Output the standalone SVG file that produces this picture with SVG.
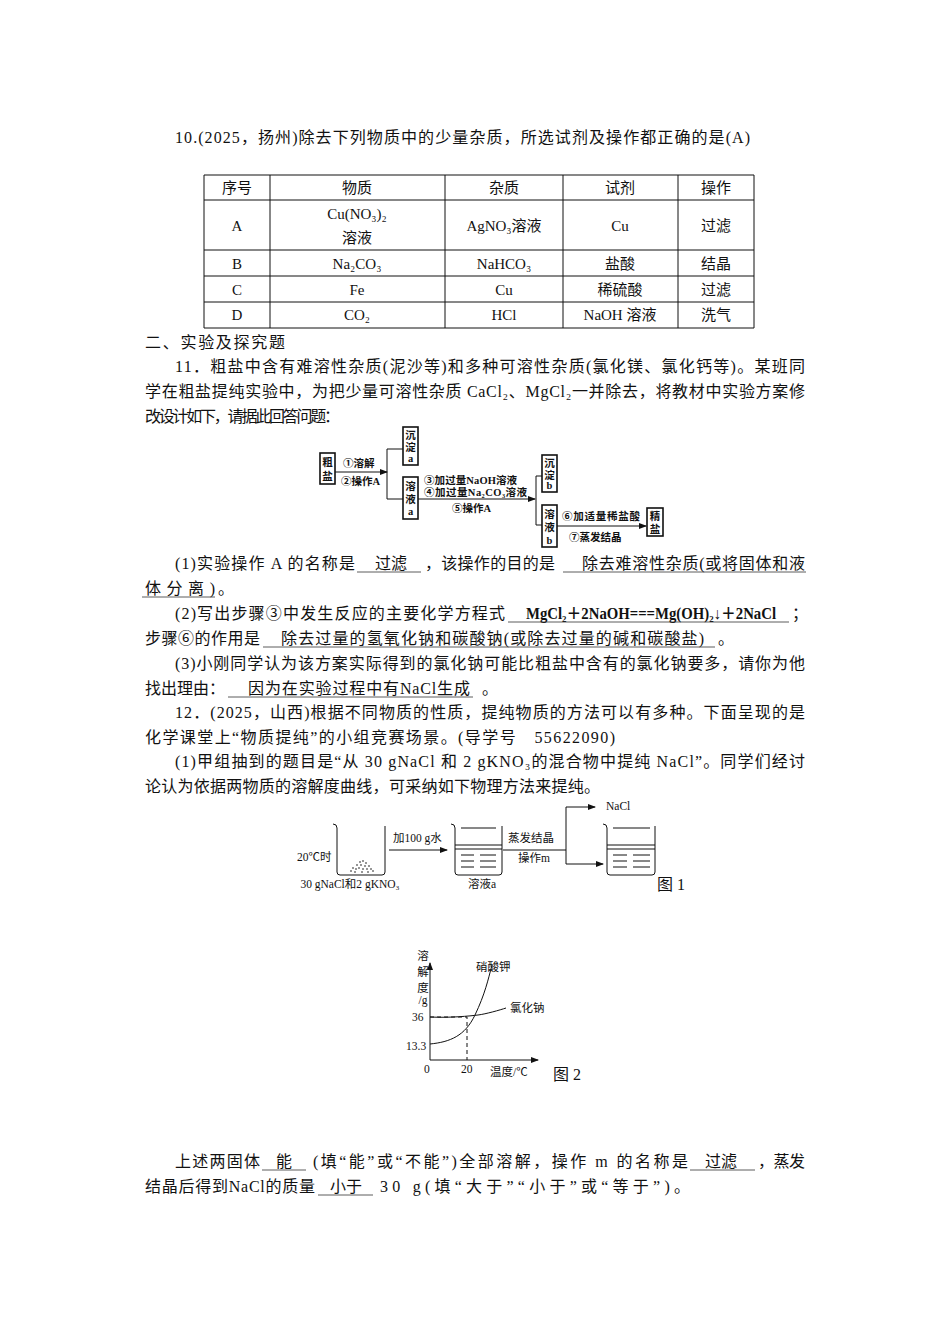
<svg xmlns="http://www.w3.org/2000/svg" width="950" height="1344" viewBox="0 0 950 1344">
<style>
text{font-family:"Liberation Serif","Noto Sans CJK SC",serif;fill:#111}
.t{font-size:16px}
.tb{font-size:15px}
.c{text-anchor:middle}
.s{font-size:10.5px;font-weight:bold}
.f{font-size:11.5px}
.ln{stroke:#111;stroke-width:1;fill:none}
.bx{stroke:#111;stroke-width:1.6;fill:#fff}
.u{stroke:#333;stroke-width:0.8}
.d{stroke:#111;stroke-width:1;stroke-dasharray:4 3;fill:none}
</style>
<defs>
<marker id="ah" markerWidth="8" markerHeight="6" refX="7" refY="3" orient="auto" markerUnits="userSpaceOnUse"><path d="M0,0 L8,3 L0,6 Z" fill="#111"/></marker>
</defs>
<rect width="950" height="1344" fill="#fff"/>

<text class="t" x="175" y="143" textLength="575" lengthAdjust="spacing">10.(2025，扬州)除去下列物质中的少量杂质，所选试剂及操作都正确的是(A)</text>

<g id="table">
<path class="ln" d="M204,175H754V328H204Z M204,200H754 M204,250H754 M204,276H754 M204,302H754 M270,175V328 M445,175V328 M563,175V328 M678,175V328"/>
<g class="tb c">
<text x="237" y="193">序号</text><text x="357" y="193">物质</text><text x="504" y="193">杂质</text><text x="620" y="193">试剂</text><text x="716" y="193">操作</text>
<text x="237" y="231">A</text><text x="357" y="219">Cu(NO₃)₂</text><text x="357" y="243">溶液</text><text x="504" y="231">AgNO₃溶液</text><text x="620" y="231">Cu</text><text x="716" y="231">过滤</text>
<text x="237" y="269">B</text><text x="357" y="269">Na₂CO₃</text><text x="504" y="269">NaHCO₃</text><text x="620" y="269">盐酸</text><text x="716" y="269">结晶</text>
<text x="237" y="295">C</text><text x="357" y="295">Fe</text><text x="504" y="295">Cu</text><text x="620" y="295">稀硫酸</text><text x="716" y="295">过滤</text>
<text x="237" y="320">D</text><text x="357" y="320">CO₂</text><text x="504" y="320">HCl</text><text x="620" y="320">NaOH 溶液</text><text x="716" y="320">洗气</text>
</g>
</g>

<text class="t" x="145" y="348" textLength="140" lengthAdjust="spacing">二、实验及探究题</text>
<text class="t" x="175" y="372" textLength="630" lengthAdjust="spacing">11．粗盐中含有难溶性杂质(泥沙等)和多种可溶性杂质(氯化镁、氯化钙等)。某班同</text>
<text class="t" x="145" y="397" textLength="660" lengthAdjust="spacing">学在粗盐提纯实验中，为把少量可溶性杂质 CaCl₂、MgCl₂一并除去，将教材中实验方案修</text>
<text class="t" x="145" y="422" textLength="195" lengthAdjust="spacing">改设计如下，请据此回答问题：</text>

<g id="connectors">
<path class="ln" d="M335,472H387" marker-end="url(#ah)"/>
<path class="ln" d="M403,449H387V499H403"/>
<path class="ln" d="M418,499H535" marker-end="url(#ah)"/>
<path class="ln" d="M542,476H536V525H542"/>
<path class="ln" d="M557,526H646" marker-end="url(#ah)"/>
<path class="ln" d="M389,850H447" marker-end="url(#ah)"/>
<path class="ln" d="M503,850H566V807H595" marker-end="url(#ah)"/>
<path class="ln" d="M566,850V864H603" marker-end="url(#ah)"/>
</g>
<g id="flow">
<g id="n-cuyan"><rect class="bx" x="320" y="453" width="15" height="31"/><text class="s c" x="327.5" y="466">粗</text><text class="s c" x="327.5" y="480">盐</text></g>
<g id="n-chendian-a"><rect class="bx" x="403" y="427" width="15" height="38"/><text class="s c" x="410.5" y="439">沉</text><text class="s c" x="410.5" y="451">淀</text><text class="s c" x="410.5" y="462">a</text></g>
<g id="n-rongye-a"><rect class="bx" x="403" y="477" width="15" height="42"/><text class="s c" x="410.5" y="490">溶</text><text class="s c" x="410.5" y="503">液</text><text class="s c" x="410.5" y="515">a</text></g>
<g id="n-chendian-b"><rect class="bx" x="542" y="455" width="15" height="37"/><text class="s c" x="549.5" y="467">沉</text><text class="s c" x="549.5" y="479">淀</text><text class="s c" x="549.5" y="489">b</text></g>
<g id="n-rongye-b"><rect class="bx" x="542" y="505" width="15" height="42"/><text class="s c" x="549.5" y="518">溶</text><text class="s c" x="549.5" y="531">液</text><text class="s c" x="549.5" y="544">b</text></g>
<g id="n-jingyan"><rect class="bx" x="647" y="508" width="16" height="28"/><text class="s c" x="655" y="520">精</text><text class="s c" x="655" y="533">盐</text></g>
<text class="s" x="343" y="467">①溶解</text>
<text class="s" x="341" y="485">②操作A</text>
<text class="s" x="424" y="484" textLength="93" lengthAdjust="spacing">③加过量NaOH溶液</text>
<text class="s" x="424" y="496" textLength="103" lengthAdjust="spacing">④加过量Na₂CO₃溶液</text>
<text class="s" x="452" y="512">⑤操作A</text>
<text class="s" x="562" y="520" textLength="78" lengthAdjust="spacing">⑥加适量稀盐酸</text>
<text class="s" x="569" y="541">⑦蒸发结晶</text>
</g>

<g class="t">
<text x="175" y="569" textLength="180" lengthAdjust="spacing">(1)实验操作 A 的名称是</text>
<text class="c" x="391" y="569">过滤</text>
<text x="425" y="569" textLength="130" lengthAdjust="spacing">，该操作的目的是</text>
<text x="582" y="569" textLength="223" lengthAdjust="spacing">除去难溶性杂质(或将固体和液</text>
<text x="145" y="594" textLength="70" lengthAdjust="spacing">体分离)</text><text x="218" y="594">。</text>
<text x="175" y="619" textLength="330" lengthAdjust="spacing">(2)写出步骤③中发生反应的主要化学方程式</text>
<text x="526" y="619" font-weight="bold" textLength="250" lengthAdjust="spacingAndGlyphs">MgCl₂＋2NaOH===Mg(OH)₂↓＋2NaCl</text>
<text x="792" y="619">；</text>
<text x="145" y="644" textLength="115" lengthAdjust="spacing">步骤⑥的作用是</text>
<text x="281" y="644" textLength="423" lengthAdjust="spacing">除去过量的氢氧化钠和碳酸钠(或除去过量的碱和碳酸盐)</text>
<text x="718" y="644">。</text>
<text x="175" y="669" textLength="630" lengthAdjust="spacing">(3)小刚同学认为该方案实际得到的氯化钠可能比粗盐中含有的氯化钠要多，请你为他</text>
<text x="145" y="694" textLength="80" lengthAdjust="spacing">找出理由：</text>
<text x="248" y="694" textLength="222" lengthAdjust="spacing">因为在实验过程中有NaCl生成</text>
<text x="482" y="694">。</text>
<text x="175" y="718" textLength="630" lengthAdjust="spacing">12．(2025，山西)根据不同物质的性质，提纯物质的方法可以有多种。下面呈现的是</text>
<text x="145" y="743" textLength="470" lengthAdjust="spacing">化学课堂上“物质提纯”的小组竞赛场景。(导学号　55622090)</text>
<text x="175" y="767" textLength="630" lengthAdjust="spacing">(1)甲组抽到的题目是“从 30 gNaCl 和 2 gKNO₃的混合物中提纯 NaCl”。同学们经讨</text>
<text x="145" y="792" textLength="455" lengthAdjust="spacing">论认为依据两物质的溶解度曲线，可采纳如下物理方法来提纯。</text>
<text x="175" y="1167" textLength="85" lengthAdjust="spacing">上述两固体</text><text class="c" x="284" y="1167">能</text>
<text x="313" y="1167" textLength="375" lengthAdjust="spacing">(填“能”或“不能”)全部溶解，操作 m 的名称是</text>
<text class="c" x="721" y="1167">过滤</text><text x="758" y="1167" textLength="47" lengthAdjust="spacing">，蒸发</text>
<text x="145" y="1192" textLength="170" lengthAdjust="spacing">结晶后得到NaCl的质量</text><text class="c" x="346" y="1192">小于</text>
<text x="380" y="1192" textLength="310" lengthAdjust="spacing">30 g(填“大于”“小于”或“等于”)。</text>
</g>
<g class="u">
<path d="M357,572H421 M563,572H806 M142,597H215 M508,622H789 M263,647H715 M228,697H473 M262,1170H306 M690,1170H755 M318,1195H373"/>
</g>

<g id="fig1">
<g id="beaker1"><path class="ln" d="M333,824Q337,824 337,828V872Q337,875 340,875H382Q385,875 385,872V826"/></g>
<g id="dots" fill="#111"><circle cx="360" cy="862" r="0.8"/><circle cx="363" cy="861" r="0.8"/><circle cx="366" cy="863" r="0.8"/><circle cx="357" cy="865" r="0.8"/><circle cx="361" cy="865" r="0.8"/><circle cx="365" cy="866" r="0.8"/><circle cx="369" cy="866" r="0.8"/><circle cx="353" cy="868" r="0.8"/><circle cx="356" cy="869" r="0.8"/><circle cx="359" cy="868" r="0.8"/><circle cx="363" cy="869" r="0.8"/><circle cx="367" cy="869" r="0.8"/><circle cx="371" cy="869" r="0.8"/><circle cx="351" cy="871" r="0.8"/><circle cx="355" cy="872" r="0.8"/><circle cx="362" cy="872" r="0.8"/><circle cx="368" cy="872" r="0.8"/><circle cx="373" cy="871" r="0.8"/></g>
<g id="beaker2"><path class="ln" d="M451,824Q455,824 455,828V872Q455,875 458,875H499Q502,875 502,872V826 M461,828H496 M455,845H502 M455,849H502 M461,855H474 M480,855H496 M461,861H474 M480,861H496 M461,867H474 M480,867H496"/></g>
<g id="beaker3"><path class="ln" d="M603,824Q607,824 607,828V872Q607,875 610,875H652Q655,875 655,872V826 M613,828H650 M607,845H655 M607,849H655 M613,855H627 M633,855H650 M613,861H627 M633,861H650 M613,867H627 M633,867H650"/></g>
<text class="f" x="297" y="861" font-size="12.5">20℃时</text>
<text class="f" x="393" y="842">加100 g水</text>
<text class="f" x="508" y="842">蒸发结晶</text>
<text class="f" x="518" y="862">操作m</text>
<text class="f" x="606" y="810">NaCl</text>
<text class="f c" x="350" y="888">30 gNaCl和2 gKNO₃</text>
<text class="f c" x="482" y="888">溶液a</text>
<text class="t" x="657" y="890">图 1</text>
</g>

<g id="fig2">
<path class="ln" d="M430,1060V963" marker-end="url(#ah)"/>
<path class="ln" d="M430,1060H538" marker-end="url(#ah)"/>
<path class="d" d="M430,1017H467V1060"/>
<path class="ln" d="M430,1017C450,1018 470,1016 478,1015S500,1010 506,1008"/>
<path class="ln" d="M430,1044C450,1042 465,1036 475,1015S488,980 492,965"/>
<g class="f">
<text class="c" x="423" y="960">溶</text><text class="c" x="423" y="976">解</text><text class="c" x="423" y="992">度</text><text class="c" x="423" y="1004">/g</text>
<text x="412" y="1021">36</text><text x="406" y="1050">13.3</text>
<text x="424" y="1073">0</text><text x="461" y="1073">20</text>
<text x="476" y="971">硝酸钾</text><text x="510" y="1012">氯化钠</text>
<text x="490" y="1076">温度/℃</text>
</g>
<text class="t" x="553" y="1080">图 2</text>
</g>
</svg>
